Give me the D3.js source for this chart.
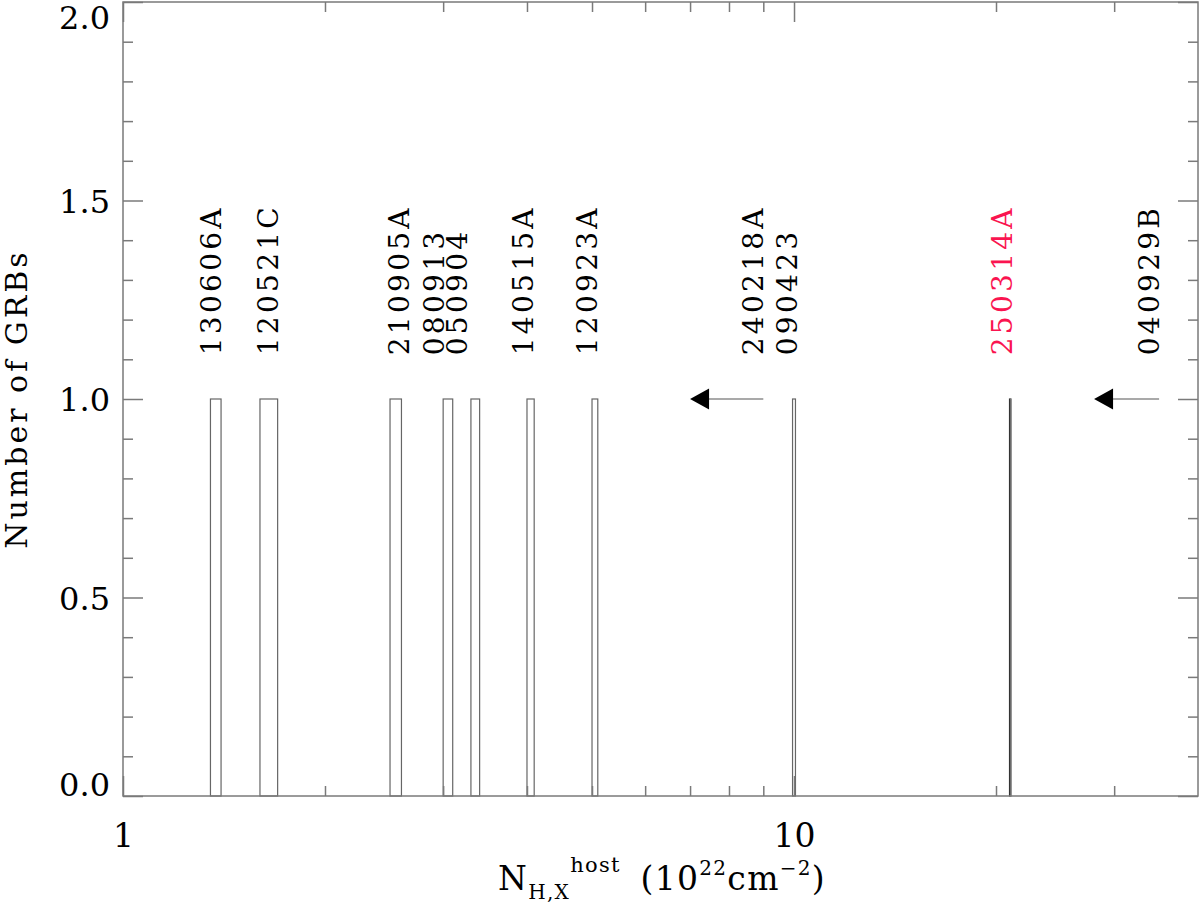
<!DOCTYPE html>
<html>
<head>
<meta charset="utf-8">
<script src="https://cdn.jsdelivr.net/npm/d3@7"></script>
<style>
  html, body { margin: 0; padding: 0; background: #fff; }
  svg { display: block; }
  text { font-family: "DejaVu Serif", "Liberation Serif", serif; fill: #000; }
</style>
</head>
<body>
<svg id="chart" width="1200" height="904"></svg>
<script>
// ---- data ----
const grbNames   = ["130606A","120521C","210905A","080913","050904","140515A","120923A","240218A","090423","250314A","040929B"];
const nhValues   = [1.40, 1.70, 2.67, 3.01, 3.26, 4.08, 5.08, 9.0, 10.1, 21.1, 35.0];   // label anchor (N_H)
const binLow     = [1.35, 1.60, 2.50, 3.00, 3.30, 4.00, 5.00, null, 9.95, 20.95, null];
const binHigh    = [1.40, 1.70, 2.60, 3.10, 3.40, 4.10, 5.10, null, 10.05, 21.05, null];
const counts     = [1, 1, 1, 1, 1, 1, 1, null, 1, 1, null];
const upperLimit = [false,false,false,false,false,false,false,true,false,false,true];
const limitTip   = [null,null,null,null,null,null,null, 7.0, null, null, 28.0];
const highlight  = "250314A";
const labelLevel = 1.11;
const xMajorTicks = [1, 10];
const xMinorTicks = [2,3,4,5,6,7,8,9,20,30];
const yMajorTicks = [0, 0.5, 1.0, 1.5, 2.0];
const yMinorTicks = [0.1,0.2,0.3,0.4,0.6,0.7,0.8,0.9,1.1,1.2,1.3,1.4,1.6,1.7,1.8,1.9];

// ---- layout ----
const L = 123, R = 1198, T = 2, B = 796;
const svg = d3.select("#chart");
const x = d3.scaleLog().domain([1, 40]).range([L, R]);
const y = d3.scaleLinear().domain([0, 2]).range([B, T]);
const axisColor = "#7a7a7a";

// bars
const bars = grbNames.map((n, i) => ({name: n, lo: binLow[i], hi: binHigh[i], c: counts[i]})).filter(d => d.lo !== null);
svg.append("g").selectAll("rect").data(bars).join("rect")
  .attr("x", d => x(d.lo))
  .attr("y", d => y(d.c))
  .attr("width", d => Math.max(0.1, x(d.hi) - x(d.lo)))
  .attr("height", d => y(0) - y(d.c))
  .attr("fill", "none")
  .attr("stroke", d => d.name === highlight ? "#333" : "#666")
  .attr("stroke-width", 1.2);

// upper-limit arrows
const lims = grbNames.map((n, i) => ({name: n, v: nhValues[i], tip: limitTip[i], ul: upperLimit[i]})).filter(d => d.ul);
const ag = svg.append("g");
lims.forEach(d => {
  const xt = x(d.tip), xs = x(d.v), yy = y(1);
  ag.append("line").attr("x1", xt + 18).attr("x2", xs).attr("y1", yy).attr("y2", yy)
    .attr("stroke", "#555").attr("stroke-width", 1.2);
  ag.append("path").attr("d", `M${xt},${yy} L${xt + 19},${yy - 10.5} L${xt + 19},${yy + 10.5} Z`)
    .attr("fill", "#000");
});

// labels
svg.append("g").selectAll("text").data(grbNames.map((n, i) => ({name: n, v: nhValues[i]}))).join("text")
  .attr("transform", d => `translate(${x(d.v)},${y(labelLevel)}) rotate(-90)`)
  .attr("text-anchor", "start")
  .style("font-size", "28px")
  .style("letter-spacing", "3.3px")
  .style("fill", d => d.name === highlight ? "#fa1450" : "#000")
  .text(d => d.name);

// axes
function styleAxis(g) {
  g.select(".domain").remove();
  g.selectAll("line").attr("stroke", axisColor).attr("stroke-width", 1.5);
}
// bottom
svg.append("g").attr("transform", `translate(0,${B})`)
  .call(d3.axisBottom(x).tickValues(xMajorTicks).tickSize(-20).tickPadding(0).tickFormat(d3.format("d")))
  .call(styleAxis)
  .call(g => g.selectAll("text").attr("y", 51).attr("dy", 0)
     .style("font-size", "33px").style("font-family", "DejaVu Serif").attr("fill", "#000"));
svg.append("g").attr("transform", `translate(0,${B})`)
  .call(d3.axisBottom(x).tickValues(xMinorTicks).tickSize(-10).tickFormat(""))
  .call(styleAxis);
// top
svg.append("g").attr("transform", `translate(0,${T})`)
  .call(d3.axisTop(x).tickValues(xMajorTicks).tickSize(-20).tickFormat(""))
  .call(styleAxis);
svg.append("g").attr("transform", `translate(0,${T})`)
  .call(d3.axisTop(x).tickValues(xMinorTicks).tickSize(-10).tickFormat(""))
  .call(styleAxis);
// left
svg.append("g").attr("transform", `translate(${L},0)`)
  .call(d3.axisLeft(y).tickValues(yMajorTicks).tickSize(-20).tickPadding(13).tickFormat(d3.format(".1f")))
  .call(styleAxis)
  .call(g => g.selectAll("text")
     .style("font-size", "32px").style("font-family", "DejaVu Serif").attr("fill", "#000")
     .attr("dy", d => d === 0 ? "-0.02em" : (d === 2 ? "0.84em" : "0.36em")));
svg.append("g").attr("transform", `translate(${L},0)`)
  .call(d3.axisLeft(y).tickValues(yMinorTicks).tickSize(-10).tickFormat(""))
  .call(styleAxis);
// right
svg.append("g").attr("transform", `translate(${R},0)`)
  .call(d3.axisRight(y).tickValues(yMajorTicks).tickSize(-20).tickFormat(""))
  .call(styleAxis);
svg.append("g").attr("transform", `translate(${R},0)`)
  .call(d3.axisRight(y).tickValues(yMinorTicks).tickSize(-10).tickFormat(""))
  .call(styleAxis);

// frame
svg.append("rect").attr("x", L).attr("y", T).attr("width", R - L).attr("height", B - T)
  .attr("fill", "none").attr("stroke", axisColor).attr("stroke-width", 1.5);

// y label
svg.append("text")
  .attr("transform", `translate(27,${(T + B) / 2}) rotate(-90)`)
  .attr("text-anchor", "middle")
  .style("font-size", "30px")
  .style("letter-spacing", "3px")
  .text("Number of GRBs");

// x label
const xl = svg.append("text").attr("x", 498).attr("y", 890).style("font-size", "33px").style("letter-spacing", "1.3px");
xl.append("tspan").text("N");
xl.append("tspan").attr("dy", 9).style("font-size", "20px").text("H,X");
xl.append("tspan").attr("dy", -27).style("font-size", "21px").text("host");
xl.append("tspan").attr("dy", 18).attr("dx", 8).text("\u00a0(10");
xl.append("tspan").attr("dy", -15).style("font-size", "20px").text("22");
xl.append("tspan").attr("dy", 15).text("cm");
xl.append("tspan").attr("dy", -15).style("font-size", "20px").text("\u22122");
xl.append("tspan").attr("dy", 15).text(")");
</script>
</body>
</html>
